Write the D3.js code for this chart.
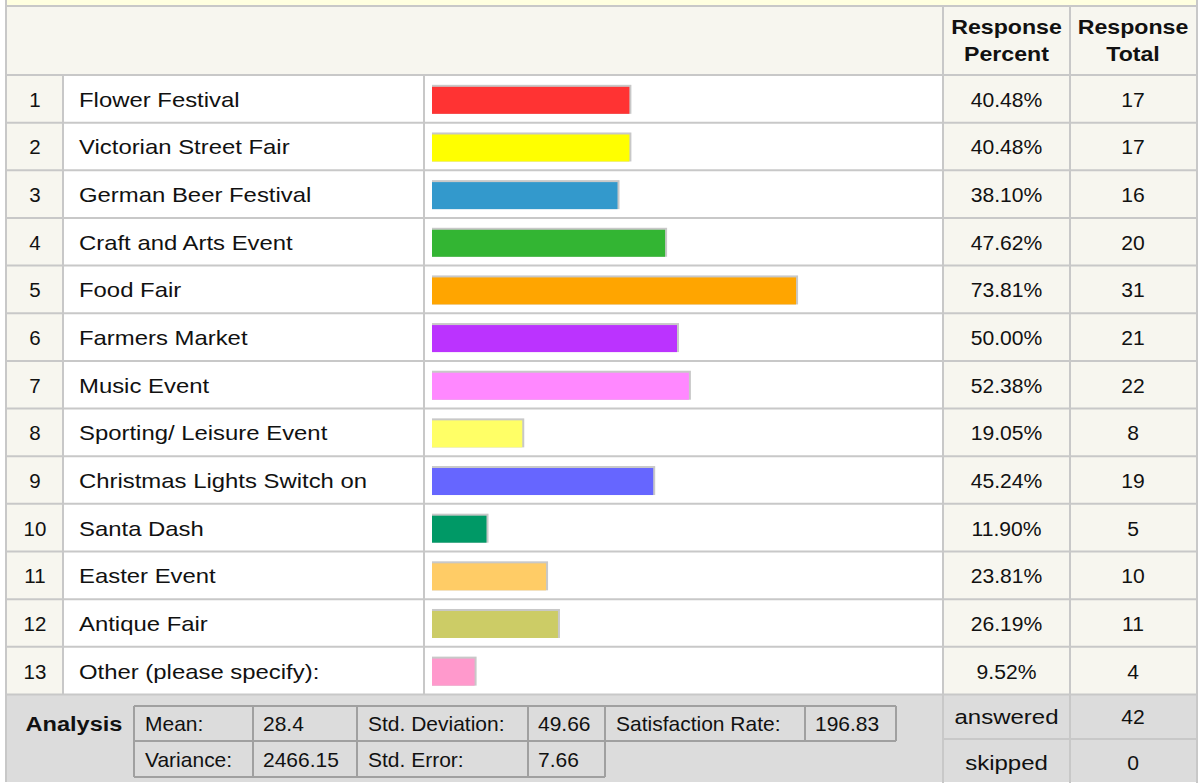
<!DOCTYPE html>
<html>
<head>
<meta charset="utf-8">
<script src="https://cdn.jsdelivr.net/npm/d3@7"></script>
<style>
  html, body { margin: 0; padding: 0; background: #ffffff; }
  svg { display: block; }
  text { font-family: "Liberation Sans", Arial, sans-serif; fill: #111111; }
</style>
</head>
<body>
<svg id="chart" width="1199" height="783"></svg>
<script>
// Survey question results
const categories = [
  "Flower Festival", "Victorian Street Fair", "German Beer Festival",
  "Craft and Arts Event", "Food Fair", "Farmers Market", "Music Event",
  "Sporting/ Leisure Event", "Christmas Lights Switch on", "Santa Dash",
  "Easter Event", "Antique Fair", "Other (please specify):"
];
const percents = [40.48, 40.48, 38.10, 47.62, 73.81, 50.00, 52.38, 19.05, 45.24, 11.90, 23.81, 26.19, 9.52];
const totals = [17, 17, 16, 20, 31, 21, 22, 8, 19, 5, 10, 11, 4];
const barColors = [
  "#ff3333", "#ffff00", "#3399cc", "#33b533", "#ffa500", "#bb33ff", "#ff88ff",
  "#ffff66", "#6666ff", "#009966", "#ffcc66", "#cccc66", "#ff99cc"
];
const headerPercent = ["Response", "Percent"];
const headerTotal = ["Response", "Total"];

// Analysis block
const statRow1 = [["Mean:", "28.4"], ["Std. Deviation:", "49.66"], ["Satisfaction Rate:", "196.83"]];
const statRow2 = [["Variance:", "2466.15"], ["Std. Error:", "7.66"]];
const summaryLabels = ["answered", "skipped"];
const summaryValues = [42, 0];

const svg = d3.select("#chart");
const W = 1199, H = 783;
const grid = "#c8c8c8", beige = "#f7f6ef", analysisBg = "#dcdcdc";

// column edges
const L = 7, R = 1196;
const cNum = 63, cLabel = 424, cBar = 943, cPct = 1070;
const headTop = 7, headBottom = 75, rowH = 47.65;
const tableBottom = headBottom + rowH * categories.length;

const y = d3.scaleBand()
  .domain(d3.range(categories.length))
  .range([headBottom, tableBottom])
  .padding(0);
// bar length (including its 2px grey edge) for a response percent
const x = d3.scaleLinear().domain([0, 100]).range([-3, 497]);
const barX0 = 432;

// wide-set text: glyphs stretched horizontally around the anchor point
function wideText(parent, px, py, str, opts) {
  const o = Object.assign({ size: 20.5, sx: 1.166, bold: false, anchor: "start" }, opts || {});
  return parent.append("text")
    .attr("transform", `translate(${px},${py}) scale(${o.sx},1)`)
    .attr("font-size", o.size)
    .attr("font-weight", o.bold ? "bold" : null)
    .attr("text-anchor", o.anchor)
    .text(str);
}

// top strip
svg.append("rect").attr("x", L).attr("y", 0).attr("width", R - L).attr("height", 6).attr("fill", "#ffffe0");

// header band
svg.append("rect").attr("x", L).attr("y", headTop).attr("width", R - L).attr("height", headBottom - headTop).attr("fill", beige);

// row cells
const rows = svg.append("g").selectAll("g").data(categories).join("g")
  .attr("transform", (d, i) => `translate(0,${y(i)})`);
rows.append("rect").attr("x", L).attr("width", cNum - L).attr("height", y.bandwidth()).attr("fill", beige);
rows.append("rect").attr("x", cNum).attr("width", cBar - cNum).attr("height", y.bandwidth()).attr("fill", "#ffffff");
rows.append("rect").attr("x", cBar).attr("width", R - cBar).attr("height", y.bandwidth()).attr("fill", beige);

// analysis band
svg.append("rect").attr("x", L).attr("y", tableBottom).attr("width", R - L).attr("height", 782 - tableBottom).attr("fill", analysisBg);

// grid lines
const gl = svg.append("g").attr("stroke", grid).attr("stroke-width", 2).attr("fill", "none");
gl.append("line").attr("x1", L - 1).attr("x2", R + 1).attr("y1", 6).attr("y2", 6);
d3.range(categories.length + 1).forEach(i => {
  const yy = headBottom + i * rowH;
  gl.append("line").attr("x1", L).attr("x2", R).attr("y1", yy).attr("y2", yy);
});
[cNum, cLabel].forEach(cx => gl.append("line").attr("x1", cx).attr("x2", cx).attr("y1", headBottom).attr("y2", tableBottom));
[cBar, cPct].forEach(cx => gl.append("line").attr("x1", cx).attr("x2", cx).attr("y1", headTop).attr("y2", H));
gl.append("line").attr("x1", L - 1).attr("x2", L - 1).attr("y1", 0).attr("y2", 782);
gl.append("line").attr("x1", R + 1).attr("x2", R + 1).attr("y1", 0).attr("y2", H);
gl.append("line").attr("x1", cBar).attr("x2", R).attr("y1", 739).attr("y2", 739);

// header text
const head = svg.append("g");
headerPercent.forEach((t, i) => wideText(head, (cBar + cPct) / 2, 34 + i * 27, t, { bold: true, sx: 1.13, anchor: "middle" }));
headerTotal.forEach((t, i) => wideText(head, (cPct + R) / 2, 34 + i * 27, t, { bold: true, sx: 1.13, anchor: "middle" }));

// row content
const mid = y.bandwidth() / 2;
rows.append("text").attr("x", (L + cNum) / 2).attr("y", mid + 8)
  .attr("text-anchor", "middle").attr("font-size", 20.5).text((d, i) => i + 1);
rows.each(function (d) { wideText(d3.select(this), 79, mid + 8, d); });

// bars: grey edge above and to the right, coloured fill on top
rows.append("rect").attr("x", barX0).attr("y", mid - 14)
  .attr("width", (d, i) => x(percents[i])).attr("height", 29).attr("fill", "#c8c8c8");
rows.append("rect").attr("x", barX0).attr("y", mid - 12)
  .attr("width", (d, i) => x(percents[i]) - 2).attr("height", 27).attr("fill", (d, i) => barColors[i]);

rows.each(function (d, i) {
  const g = d3.select(this);
  wideText(g, (cBar + cPct) / 2, mid + 8, percents[i].toFixed(2) + "%", { sx: 1.03, anchor: "middle" });
  wideText(g, (cPct + R) / 2, mid + 8, String(totals[i]), { sx: 1.03, anchor: "middle" });
});

// analysis
wideText(svg, 74, 730.5, "Analysis", { bold: true, sx: 1.15, anchor: "middle" });

const aTop = 706, aMid = 741, aBot = 777;
const colEdges1 = [134, 253, 357, 528, 605, 805, 896];
const colEdges2 = [134, 253, 357, 528, 605];
const ab = svg.append("g").attr("stroke", "#a0a0a0").attr("stroke-width", 2).attr("fill", "none");
ab.append("line").attr("x1", 134).attr("x2", 896).attr("y1", aTop).attr("y2", aTop);
ab.append("line").attr("x1", 134).attr("x2", 896).attr("y1", aMid).attr("y2", aMid);
ab.append("line").attr("x1", 134).attr("x2", 605).attr("y1", aBot).attr("y2", aBot);
colEdges1.forEach(cx => ab.append("line").attr("x1", cx).attr("x2", cx).attr("y1", aTop).attr("y2", aMid));
colEdges2.forEach(cx => ab.append("line").attr("x1", cx).attr("x2", cx).attr("y1", aMid).attr("y2", aBot));

const at = svg.append("g");
const statOpts = { size: 20, sx: 1.05 };
statRow1.forEach((pair, k) => {
  wideText(at, colEdges1[2 * k] + 11, 730.5, pair[0], statOpts);
  wideText(at, colEdges1[2 * k + 1] + 10, 730.5, pair[1], statOpts);
});
statRow2.forEach((pair, k) => {
  wideText(at, colEdges2[2 * k] + 11, 766.5, pair[0], statOpts);
  wideText(at, colEdges2[2 * k + 1] + 10, 766.5, pair[1], statOpts);
});

summaryLabels.forEach((t, i) => {
  const yy = 724 + i * 46;
  wideText(at, (cBar + cPct) / 2, yy, t, { sx: 1.17, anchor: "middle" });
  wideText(at, (cPct + R) / 2, yy, String(summaryValues[i]), { sx: 1.03, anchor: "middle" });
});
</script>
</body>
</html>
